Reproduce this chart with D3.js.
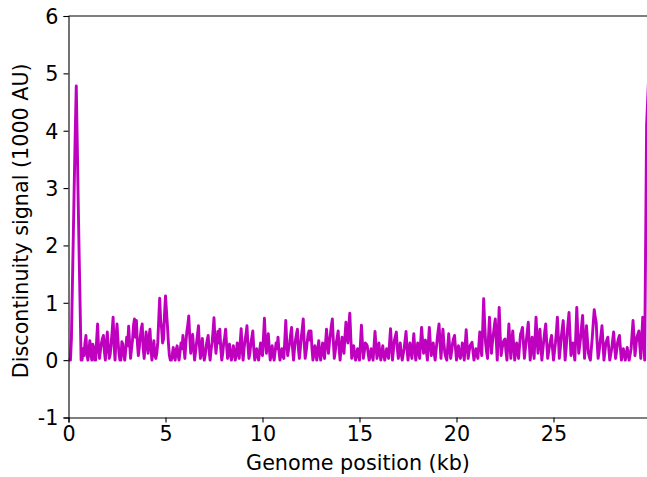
<!DOCTYPE html>
<html><head><meta charset="utf-8">
<script src="https://cdn.jsdelivr.net/npm/d3@7/dist/d3.min.js"></script>
<style>body{margin:0;background:#fff}svg{display:block}</style>
</head><body>
<script>
// Genome position step (kb) between successive samples, starting at 0 kb
const stepKb = 0.05;
// Discontinuity signal (1000 AU), one value per sample (20 samples per kb per row)
const signal = [
0,0,0,0.37,1.3,2.2,3.13,4,4.78,3.8,2.76,1.8,0.92,0,0,0.2,0.08,0.3,0.43,0.1,
0,0.15,0.34,0.12,0,0.28,0.22,0,0,0.35,0.63,0.2,0.03,0.18,0.3,0.38,0.43,0.15,0,0.3,
0.49,0.22,0.03,0.1,0.3,0.5,0.75,0.25,0,0.4,0.63,0.35,0.12,0,0,0.32,0.28,0.1,0,0.18,
0.4,0.25,0.59,0.3,0.03,0.2,0.35,0.6,0.72,0.4,0.69,0.3,0.08,0.22,0.4,0.55,0.63,0.2,0.03,0.25,
0.49,0.3,0.12,0.4,0.54,0.2,0,0.15,0.34,0.1,0.03,0.12,0.3,0.7,1.08,0.7,0.55,0.3,0.37,0.8,
1.12,0.85,0.6,0.3,0.08,0,0,0.1,0.22,0.05,0,0.18,0.25,0.08,0,0.15,0.3,0.2,0.43,0.2,
0.03,0.3,0.5,0.62,0.77,0.4,0.12,0.3,0.45,0.2,0,0.15,0.3,0.45,0.6,0.25,0.03,0.2,0.38,0.1,
0,0.1,0.25,0.35,0.43,0.15,0,0.18,0.3,0.5,0.74,0.35,0.12,0.3,0.5,0.3,0.54,0.2,0,0.12,
0.3,0.4,0.54,0.25,0.03,0.15,0.28,0.1,0,0.12,0.25,0.1,0,0.15,0.3,0.1,0.03,0.3,0.55,0.2,
0,0.2,0.35,0.45,0.6,0.25,0.03,0.12,0.3,0.4,0.51,0.2,0,0.1,0.2,0.08,0,0.15,0.3,0.15,
0.08,0.4,0.73,0.35,0.12,0.3,0.46,0.2,0,0.12,0.25,0.08,0,0.15,0.3,0.2,0.4,0.15,0,0.1,
0.2,0.08,0.03,0.35,0.69,0.3,0.08,0.2,0.3,0.45,0.57,0.2,0,0.2,0.35,0.45,0.54,0.2,0.03,0.2,
0.4,0.55,0.72,0.3,0.03,0.15,0.3,0.45,0.51,0.35,0.51,0.2,0,0.12,0.25,0.1,0,0.2,0.34,0.1,
0,0.15,0.3,0.12,0.03,0.3,0.54,0.3,0.12,0.3,0.45,0.6,0.72,0.35,0.03,0.15,0.3,0.4,0.51,0.2,
0,0.2,0.4,0.25,0.12,0.4,0.66,0.45,0.3,0.6,0.82,0.4,0.03,0.15,0.25,0.1,0,0.1,0.2,0.08,
0,0.3,0.61,0.3,0.03,0.15,0.3,0.28,0.25,0.1,0,0.1,0.2,0.08,0,0.25,0.5,0.25,0.03,0.15,
0.3,0.12,0,0.12,0.25,0.1,0,0.1,0.2,0.1,0.03,0.3,0.55,0.25,0,0.18,0.35,0.42,0.49,0.2,
0.03,0.15,0.3,0.12,0,0.1,0.2,0.35,0.5,0.2,0,0.15,0.3,0.15,0.03,0.25,0.46,0.2,0,0.15,
0.3,0.15,0.03,0.3,0.57,0.35,0.12,0.25,0.35,0.15,0,0.3,0.57,0.3,0.08,0.2,0.3,0.12,0,0.18,
0.35,0.5,0.63,0.3,0.03,0.3,0.54,0.3,0.12,0.05,0,0.25,0.46,0.2,0.03,0.15,0.3,0.38,0.43,0.2,
0,0.12,0.25,0.1,0.03,0.15,0.3,0.12,0,0.28,0.53,0.25,0.03,0.15,0.25,0.28,0.31,0.15,0,0.1,
0.2,0.1,0.03,0.25,0.49,0.25,0.08,0.55,1.07,0.65,0.3,0.15,0.03,0.4,0.75,0.4,0.12,0.3,0.45,0.6,
0.72,0.35,0,0.45,0.92,0.45,0.08,0.2,0.3,0.35,0.37,0.15,0,0.3,0.63,0.3,0.03,0.3,0.51,0.25,
0,0.15,0.3,0.15,0.03,0.25,0.45,0.5,0.57,0.3,0.03,0.2,0.35,0.5,0.66,0.3,0,0.2,0.4,0.2,
0.03,0.4,0.75,0.4,0.12,0.35,0.54,0.25,0,0.18,0.35,0.5,0.63,0.3,0.03,0.15,0.25,0.35,0.43,0.2,
0,0.15,0.3,0.5,0.75,0.4,0.03,0.2,0.4,0.55,0.69,0.35,0,0.2,0.45,0.65,0.83,0.45,0.08,0.2,
0.3,0.15,0,0.45,0.92,0.5,0.12,0.25,0.4,0.6,0.78,0.4,0.03,0.3,0.6,0.35,0.12,0.05,0,0.2,
0.4,0.65,0.88,0.75,0.66,0.3,0.03,0.15,0.3,0.45,0.6,0.3,0,0.15,0.3,0.35,0.4,0.2,0,0.1,
0.2,0.35,0.49,0.25,0.03,0.15,0.3,0.38,0.43,0.2,0,0.1,0.2,0.1,0,0.1,0.22,0.1,0,0.1,
0.2,0.45,0.69,0.4,0.08,0.25,0.4,0.45,0.51,0.25,0.03,0.4,0.75,0.35,0,2.05,4.1,4.5,4.9
];
const xTicks = [0,5,10,15,20,25];
const yTicks = [-1,0,1,2,3,4,5,6];
const xLabel = "Genome position (kb)";
const yLabel = "Discontinuity signal (1000 AU)";

const W = 647, H = 477;
const mLeft = 68.5, mTop = 16, mBottom = 417.5;
const pxPerKb = 19.4;
const xMax = 30;
const fs = 20.7;

const svg = d3.select("body").append("svg").attr("width", W).attr("height", H)
  .style("font-family", "DejaVu Sans, sans-serif");

const x = d3.scaleLinear().domain([0, xMax]).range([mLeft, mLeft + xMax * pxPerKb]);
const y = d3.scaleLinear().domain([-1, 6]).range([mBottom, mTop]);

const data = signal.map((v, i) => [i * stepKb, v]);

const line = d3.line().x(d => x(d[0])).y(d => y(d[1]));
svg.append("path").datum(data).attr("d", line)
  .attr("fill", "none").attr("stroke", "#bf00bf").attr("stroke-width", 2.9)
  .attr("stroke-linejoin", "round");

const fmt = d => String(d);
const xAxis = svg.append("g").attr("transform", `translate(0,${mBottom})`)
  .call(d3.axisBottom(x).tickValues(xTicks).tickSize(5).tickPadding(4).tickFormat(fmt));
const yAxis = svg.append("g").attr("transform", `translate(${mLeft},0)`)
  .call(d3.axisLeft(y).tickValues(yTicks).tickSize(5).tickPadding(5).tickFormat(fmt));
[xAxis, yAxis].forEach(g => {
  g.selectAll("text").attr("font-size", fs).attr("font-family", "DejaVu Sans, sans-serif").attr("fill", "#000");
  g.selectAll("line").attr("stroke", "#000").attr("stroke-width", 1.1);
  g.select(".domain").attr("stroke", "#000").attr("stroke-width", 1.1);
});
yAxis.selectAll("text").attr("dy", "0.36em");
svg.append("line").attr("x1", mLeft).attr("x2", x(xMax)).attr("y1", mTop).attr("y2", mTop)
  .attr("stroke", "#000").attr("stroke-width", 1.1);

svg.append("text").attr("x", 358).attr("y", 470)
  .attr("text-anchor", "middle").attr("font-size", fs).text(xLabel);
svg.append("text").attr("transform", `translate(28,${(mTop + mBottom) / 2 + 4}) rotate(-90)`)
  .attr("text-anchor", "middle").attr("font-size", fs).text(yLabel);
</script>
</body></html>
